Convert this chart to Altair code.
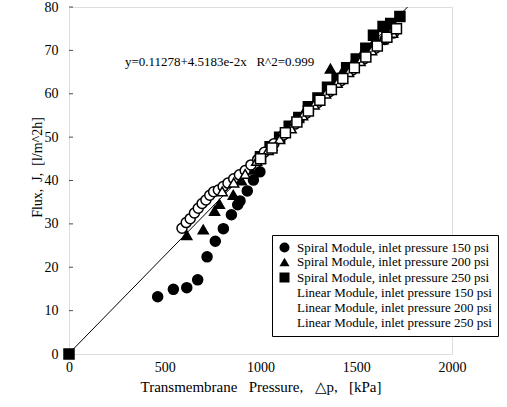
import altair as alt
import pandas as pd

SERIES = [
    "Spiral Module, inlet pressure 150 psi",
    "Spiral Module, inlet pressure 200 psi",
    "Spiral Module, inlet pressure 250 psi",
    "Linear Module, inlet pressure 150 psi",
    "Linear Module, inlet pressure 200 psi",
    "Linear Module, inlet pressure 250 psi",
]

spiral150_x = [463, 545, 615, 672, 721, 764, 806, 848, 881, 893, 931, 963, 997]
spiral150_y = [13.2, 14.9, 15.3, 17.1, 22.4, 26.0, 28.9, 32.1, 34.4, 35.3, 37.6, 40.1, 42.0]

spiral200_x = [615, 701, 760, 785, 858, 900, 950, 1000, 1060, 1120, 1180, 1240, 1300, 1365, 1420, 1480, 1540, 1600, 1660]
spiral200_y = [27.4, 28.7, 33.0, 34.6, 36.7, 40.0, 42.5, 45.0, 48.0, 51.0, 53.5, 56.5, 59.0, 65.8, 64.5, 67.0, 70.0, 72.5, 75.5]

spiral250_x = [0, 1000, 1050, 1100, 1150, 1200, 1250, 1300, 1350, 1400, 1450, 1500, 1550, 1590, 1640, 1680, 1728]
spiral250_y = [0, 45.5, 47.8, 50.0, 52.5, 54.5, 57.0, 59.0, 61.5, 63.5, 66.0, 68.0, 70.5, 73.5, 75.5, 76.2, 77.8]

linear150_x = [590, 612, 633, 655, 675, 695, 715, 735, 755, 780, 805, 830, 860, 890, 920, 950, 985,
               1020, 1070, 1120, 1180, 1240, 1300, 1360, 1420, 1480, 1540, 1600, 1650, 1695]
linear150_y = [29.0, 30.3, 31.2, 32.5, 33.6, 34.7, 35.5, 36.6, 37.4, 37.8, 38.6, 39.4, 40.4, 41.3, 42.3, 43.6, 44.8,
               46.5, 48.5, 50.5, 53.0, 55.5, 58.0, 60.5, 63.0, 65.5, 68.0, 70.5, 72.5, 74.0]

linear200_x = [800, 860, 920, 980, 1040, 1100, 1160, 1220, 1280, 1340, 1400, 1460, 1520, 1580, 1640, 1690]
linear200_y = [37.5, 39.5, 41.5, 44.5, 47.0, 49.5, 52.0, 55.0, 57.5, 60.0, 62.5, 65.0, 67.5, 70.0, 72.5, 74.0]

linear250_x = [1000, 1060, 1130, 1190, 1250, 1310, 1370, 1430, 1490, 1550, 1610, 1660, 1710]
linear250_y = [45.0, 47.5, 51.0, 53.5, 56.0, 58.5, 61.0, 63.5, 66.0, 68.5, 71.0, 73.0, 75.0]

fit_x = [0, 1768]
fit_y = [0.11278, 80.0]

y_ticks = [0, 10, 20, 30, 40, 50, 60, 70, 80]
x_ticks = [0, 500, 1000, 1500, 2000]

NB = "\u00a0"
equation = f"y=0.11278+4.5183e-2x{NB}{NB} R^2=0.999"
eq_x, eq_y = [292], [67.3]
x_title = f"Transmembrane{NB}{NB} Pressure,{NB}{NB} \u25b3p,{NB}{NB} [kPa]"
y_title = f"Flux,{NB} J,{NB} [l/m^2h]"

rows = []
for name, xs, ys in zip(SERIES,
                        [spiral150_x, spiral200_x, spiral250_x, linear150_x, linear200_x, linear250_x],
                        [spiral150_y, spiral200_y, spiral250_y, linear150_y, linear200_y, linear250_y]):
    for a, b in zip(xs, ys):
        rows.append({"series": name, "x": a, "y": b})
pts = pd.DataFrame(rows)

FONT = "Liberation Serif"

xscale = alt.Scale(domain=[0, 2000], nice=False)
yscale = alt.Scale(domain=[0, 80], nice=False)

xaxis = alt.Axis(values=x_ticks, title=x_title, grid=False,
                 ticks=False, domain=False, labelFont=FONT, labelFontSize=14, labelColor="black",
                 titleFont=FONT, titleFontSize=15, titleFontWeight="normal", titleColor="black",
                 labelPadding=6, titlePadding=5, format="d", labelFlush=False)
yaxis = alt.Axis(values=y_ticks, title=y_title, grid=False, ticks=False, domain=False,
                 labelFont=FONT, labelFontSize=14, labelColor="black",
                 titleFont=FONT, titleFontSize=14, titleFontWeight="normal", titleColor="black",
                 labelPadding=11, labelFlush=False,
                 titleX=-32, titleY=160, titleAngle=270, titleAlign="center", titleBaseline="middle")

line = alt.Chart(pd.DataFrame({"x": fit_x, "y": fit_y})).mark_line(
    color="black", strokeWidth=1, clip=True
).encode(x=alt.X("x:Q", scale=xscale, axis=xaxis), y=alt.Y("y:Q", scale=yscale, axis=yaxis))

points = alt.Chart(pts).mark_point(filled=False, strokeWidth=1.5, opacity=1).encode(
    x=alt.X("x:Q", scale=xscale),
    y=alt.Y("y:Q", scale=yscale),
    shape=alt.Shape("series:N", sort=SERIES,
                    scale=alt.Scale(domain=SERIES,
                                    range=["circle", "triangle-up", "square", "circle", "triangle-up", "square"]),
                    legend=alt.Legend(title=None, orient="none", legendX=203, legendY=228,
                                      strokeColor="black", fillColor="white", padding=6,
                                      labelFont=FONT, labelFontSize=13, labelColor="black",
                                      symbolSize=100, rowPadding=0.5, labelLimit=300, labelOffset=6,
                                      symbolStrokeColor="#bbbbbb", symbolStrokeWidth=1)),
    fill=alt.Fill("series:N", sort=SERIES,
                  scale=alt.Scale(domain=SERIES, range=["black", "black", "black", "white", "white", "white"]),
                  legend=alt.Legend(title=None, orient="none", legendX=203, legendY=228)),
    size=alt.value(100),
    stroke=alt.value("black"),
)

ticks = alt.Chart(pd.DataFrame({"y": y_ticks})).mark_tick(
    orient="horizontal", color="black", thickness=1, size=4
).encode(y=alt.Y("y:Q", scale=yscale), x=alt.value(2))

text = alt.Chart(pd.DataFrame({"x": eq_x, "y": eq_y, "t": [equation]})).mark_text(
    align="left", baseline="middle", font=FONT, fontSize=13, color="black"
).encode(x=alt.X("x:Q", scale=xscale), y=alt.Y("y:Q", scale=yscale), text="t:N")

chart = alt.layer(line, points, ticks, text).properties(
    width=383, height=347,
    padding={"left": 69, "top": 7, "right": 55, "bottom": 53},
    autosize=alt.AutoSizeParams(type="none"),
).configure_view(stroke="black", strokeWidth=1.5).configure(background="white")

chart.save("out.html", embed_options={"renderer": "svg", "actions": False})
